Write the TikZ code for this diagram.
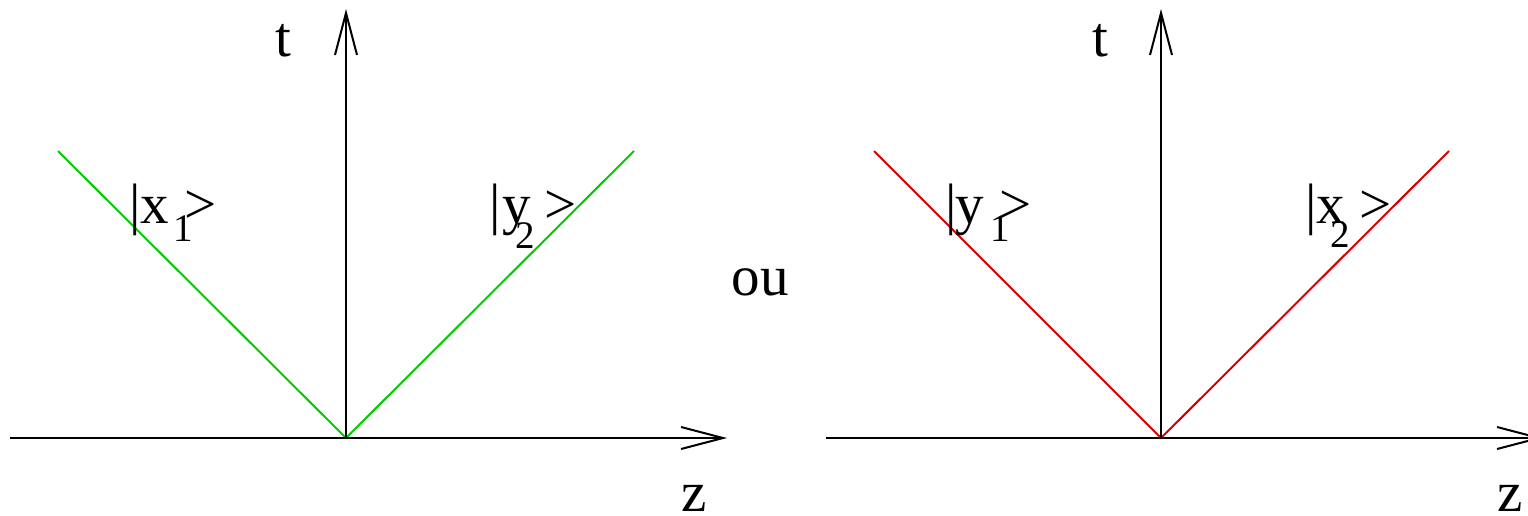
\documentclass[tikz,border=0pt]{standalone}
\usepackage{fontspec}
\setmainfont{Liberation Serif}
\usetikzlibrary{arrows.meta}
\definecolor{lgreen}{RGB}{0,205,0}
\definecolor{lred}{RGB}{215,0,0}
\tikzset{
  axis/.style={line width=2pt, black, -{Straight Barb[length=42pt,width=22pt,line width=2pt]}},
  ray/.style={line width=2pt},
  lbl/.style={anchor=base, inner sep=0pt, font=\fontsize{57}{60}\selectfont},
  sub/.style={anchor=base, inner sep=0pt, font=\fontsize{39}{42}\selectfont}
}
\begin{document}
\begin{tikzpicture}[x=1pt,y=-1pt]
\useasboundingbox (0,0) rectangle (1528,515);
\clip (0,0) rectangle (1528,515);
% left diagram
\coordinate (O1) at (346,438);
\coordinate (zs1) at (10,438);
\coordinate (ze1) at (727,438);
\coordinate (te1) at (346,9);
\coordinate (gl) at (58,151);
\coordinate (gr) at (634,151);
\draw[ray, lgreen] (gl) -- (O1) -- (gr);
\draw[axis] (zs1) -- (ze1);
\draw[axis] (O1) -- (te1);
\node[lbl] (t1) at (283,56) {t};
\node[lbl] (z1) at (694,511) {z};
\node[lbl] (b1) at (135,223) {|};
\node[lbl] (x1) at (154.5,223) {x};
\node[sub] (s1) at (183.5,241) {1};
\node[lbl] (k1) at (200.5,223) {>};
\node[lbl] (b2) at (495,223) {|};
\node[lbl] (y2) at (517,223) {y};
\node[sub] (s2) at (525,248) {2};
\node[lbl] (k2) at (560.5,223) {>};
% middle
\node[lbl] (ou) at (760,295) {ou};
% right diagram
\coordinate (O2) at (1161,438);
\coordinate (zs2) at (826,438);
\coordinate (ze2) at (1543,438);
\coordinate (te2) at (1161,9);
\coordinate (rl) at (874,151);
\coordinate (rr) at (1449,151);
\draw[ray, lred] (rl) -- (O2) -- (rr);
\draw[axis] (zs2) -- (ze2);
\draw[axis] (O2) -- (te2);
\node[lbl] (t2) at (1100,56) {t};
\node[lbl] (z2) at (1510,511) {z};
\node[lbl] (b3) at (951,223) {|};
\node[lbl] (y3) at (970,223) {y};
\node[sub] (s3) at (1000,241) {1};
\node[lbl] (k3) at (1016,223) {>};
\node[lbl] (b4) at (1311,223) {|};
\node[lbl] (x4) at (1330.5,223) {x};
\node[sub] (s4) at (1340,247) {2};
\node[lbl] (k4) at (1376,223) {>};
\end{tikzpicture}
\end{document}
